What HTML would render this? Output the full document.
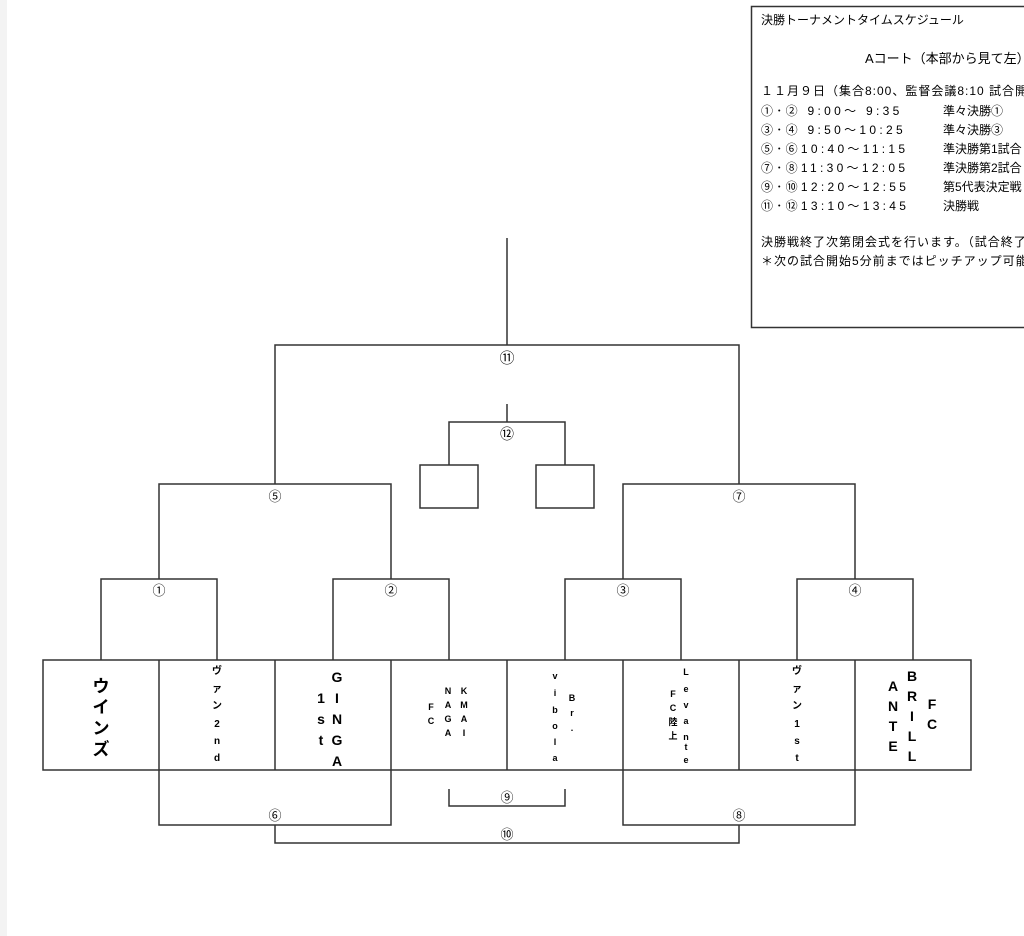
<!DOCTYPE html>
<html><head><meta charset="utf-8"><style>
html,body{margin:0;padding:0;background:#fff;}
svg{display:block;}
text{font-family:"Liberation Sans","Noto Sans CJK JP",sans-serif;fill:#000;}
.b{font-weight:bold;}
.t{letter-spacing:3.3px;}
</style></head><body>
<svg width="1024" height="936" viewBox="0 0 1024 936" xmlns="http://www.w3.org/2000/svg">
<rect x="0" y="0" width="7" height="936" fill="#f3f3f3"/>
<g stroke="#333" stroke-width="1.5" fill="none">
<rect x="751.5" y="6.5" width="290" height="321"/>
<rect x="43" y="660" width="928" height="110"/>
<path d="M159 660V770M275 660V770M391 660V770M507 660V770M623 660V770M739 660V770M855 660V770"/>
<path d="M101 660V579H217V660M333 660V579H449V660M565 660V579H681V660M797 660V579H913V660"/>
<path d="M159 579V484H391V579M623 579V484H855V579"/>
<path d="M275 484V345H739V484M507 345V238"/>
<path d="M507 404V422M449 465V422H565V465"/>
<rect x="420" y="465" width="58" height="43"/>
<rect x="536" y="465" width="58" height="43"/>
<path d="M159 770V825H391V770M623 770V825H855V770M275 825V843H739V825M449 789V806H565V789"/>
</g>
<g font-size="13" text-anchor="middle">
<text x="159" y="595">①</text><text x="391" y="595">②</text><text x="623" y="595">③</text><text x="855" y="595">④</text>
<text x="275" y="501">⑤</text><text x="739" y="501">⑦</text>
<text x="507" y="363" font-size="15">⑪</text>
<text x="507" y="439" font-size="14">⑫</text>
<text x="275" y="820">⑥</text><text x="739" y="820">⑧</text>
<text x="507" y="802">⑨</text><text x="507" y="839">⑩</text>
</g>
<g font-size="12">
<text x="761" y="24">決勝トーナメントタイムスケジュール</text>
<text x="865" y="63" font-size="13">Aコート（本部から見て左）</text>
<text x="761" y="95" style="letter-spacing:1px">１１月９日（集合8:00、監督会議8:10 試合開始9:00）</text>
<text x="761" y="115" class="t">①･② 9:00～ 9:35</text><text x="943" y="115">準々決勝①</text>
<text x="761" y="134" class="t">③･④ 9:50～10:25</text><text x="943" y="134">準々決勝③</text>
<text x="761" y="153" class="t">⑤･⑥10:40～11:15</text><text x="943" y="153">準決勝第1試合</text>
<text x="761" y="172" class="t">⑦･⑧11:30～12:05</text><text x="943" y="172">準決勝第2試合</text>
<text x="761" y="191" class="t">⑨･⑩12:20～12:55</text><text x="943" y="191">第5代表決定戦</text>
<text x="761" y="210" class="t">⑪･⑫13:10～13:45</text><text x="943" y="210">決勝戦</text>
<text x="761" y="246" style="letter-spacing:1px">決勝戦終了次第閉会式を行います。（試合終了後）</text>
<text x="761" y="265" style="letter-spacing:1px">＊次の試合開始5分前まではピッチアップ可能です</text>
</g>
<g class="b" text-anchor="middle">
<g font-size="17"><text x="101" y="692">ウ</text><text x="101" y="713">イ</text><text x="101" y="734">ン</text><text x="101" y="755">ズ</text></g>
<g font-size="10"><text x="217" y="674">ヴ</text><text x="217" y="692">ァ</text><text x="217" y="709">ン</text><text x="217" y="727">2</text><text x="217" y="744">n</text><text x="217" y="761">d</text></g>
<g font-size="14"><text x="337" y="682">G</text><text x="337" y="703">I</text><text x="337" y="724">N</text><text x="337" y="745">G</text><text x="337" y="766">A</text>
<text x="321" y="703">1</text><text x="321" y="724">s</text><text x="321" y="745">t</text></g>
<g font-size="9"><text x="431" y="710">F</text><text x="431" y="724">C</text>
<text x="448" y="694">N</text><text x="448" y="708">A</text><text x="448" y="722">G</text><text x="448" y="736">A</text>
<text x="464" y="694">K</text><text x="464" y="708">M</text><text x="464" y="722">A</text><text x="464" y="736">I</text></g>
<g font-size="9"><text x="555" y="679">v</text><text x="555" y="696">i</text><text x="555" y="713">b</text><text x="555" y="729">o</text><text x="555" y="745">l</text><text x="555" y="761">a</text>
<text x="572" y="701">B</text><text x="572" y="716">r</text><text x="572" y="731">.</text></g>
<g font-size="9"><text x="686" y="675">L</text><text x="686" y="692">e</text><text x="686" y="708">v</text><text x="686" y="724">a</text><text x="686" y="740">n</text><text x="686" y="750">t</text><text x="686" y="763">e</text>
<text x="673" y="697">F</text><text x="673" y="711">C</text><text x="673" y="725">陸</text><text x="673" y="739">上</text></g>
<g font-size="10"><text x="797" y="674">ヴ</text><text x="797" y="692">ァ</text><text x="797" y="709">ン</text><text x="797" y="727">1</text><text x="797" y="744">s</text><text x="797" y="761">t</text></g>
<g font-size="14"><text x="893" y="691">A</text><text x="893" y="711">N</text><text x="893" y="731">T</text><text x="893" y="751">E</text>
<text x="912" y="681">B</text><text x="912" y="701">R</text><text x="912" y="721">I</text><text x="912" y="741">L</text><text x="912" y="761">L</text>
<text x="932" y="709">F</text><text x="932" y="729">C</text></g>
</g>
</svg>
</body></html>
